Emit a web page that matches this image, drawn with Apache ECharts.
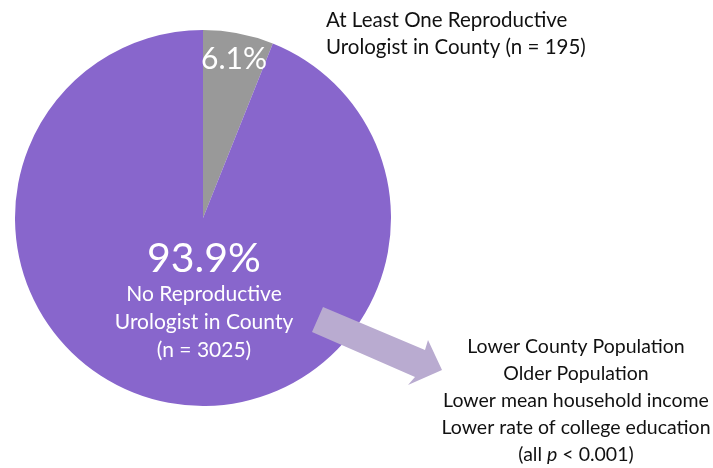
<!DOCTYPE html>
<html>
<head>
<meta charset="utf-8">
<script src="https://cdn.jsdelivr.net/npm/echarts@6/dist/echarts.min.js"></script>
<style>html,body{margin:0;padding:0;background:#fff;}#c{width:713px;height:468px;}</style>
</head>
<body>
<div id="c"></div>
<script>
const categories = ['At Least One Reproductive Urologist in County', 'No Reproductive Urologist in County'];
const counts = [195, 3025];
const sliceColors = ['#999999', '#8866CC'];
const topNoteLines = ['At Least One Reproductive', 'Urologist in County (n = 195)'];
const findingLines = ['Lower County Population', 'Older Population', 'Lower mean household income', 'Lower rate of college education', '(all {i|p} < 0.001)'];

const FONT = 'Lato';
const chart = echarts.init(document.getElementById('c'));

const option = {
  animation: false,
  backgroundColor: '#ffffff',
  series: [{
    type: 'pie',
    center: [203, 218],
    radius: 188,
    startAngle: 90,
    clockwise: true,
    silent: true,
    emphasis: { disabled: true },
    labelLine: { show: false },
    data: categories.map((c, i) => ({ name: c, value: counts[i], itemStyle: { color: sliceColors[i] } })),
    label: {
      show: true,
      position: 'inside',
      color: '#ffffff',
      fontFamily: FONT,
      formatter: function (p) {
        const pct = p.percent.toFixed(1) + '%';
        if (p.dataIndex === 0) return '{s|' + pct + '}';
        return '{b|' + pct + '}\n{m|No Reproductive}\n{m|Urologist in County}\n{m|(n = ' + p.value + ')}';
      },
      rich: {
        s: { fontSize: 30, fontFamily: FONT, color: '#fff', lineHeight: 32 },
        b: { fontSize: 41, fontFamily: FONT, color: '#fff', lineHeight: 42 },
        m: { fontSize: 21, fontFamily: FONT, color: '#fff', lineHeight: 28 }
      }
    },
    labelLayout: function (p) {
      if (p.dataIndex === 0) return { x: 234, y: 59, align: 'center', verticalAlign: 'middle' };
      return { x: 204, y: 238, align: 'center', verticalAlign: 'top' };
    }
  }],
  graphic: [
    {
      type: 'polygon',
      z: 100,
      shape: { points: [[323, 307], [425, 350], [428, 340], [442, 370], [408, 385], [415, 377], [312, 332]] },
      style: { fill: '#B9ABD0' },
      silent: true
    },
    {
      type: 'text',
      z: 100,
      left: 326, top: 7,
      style: { text: topNoteLines.join('\n'), fontSize: 20.5, fontFamily: FONT, fill: '#111', lineHeight: 27 }
    },
    {
      type: 'text',
      z: 100,
      x: 576, y: 333,
      style: {
        text: findingLines.join('\n'), fontSize: 19.5, fontFamily: FONT, fill: '#111', lineHeight: 27, align: 'center',
        rich: { i: { fontStyle: 'italic', fontSize: 19.5, fontFamily: FONT, fill: '#111' } }
      }
    }
  ]
};
chart.setOption(option);
</script>
</body>
</html>
